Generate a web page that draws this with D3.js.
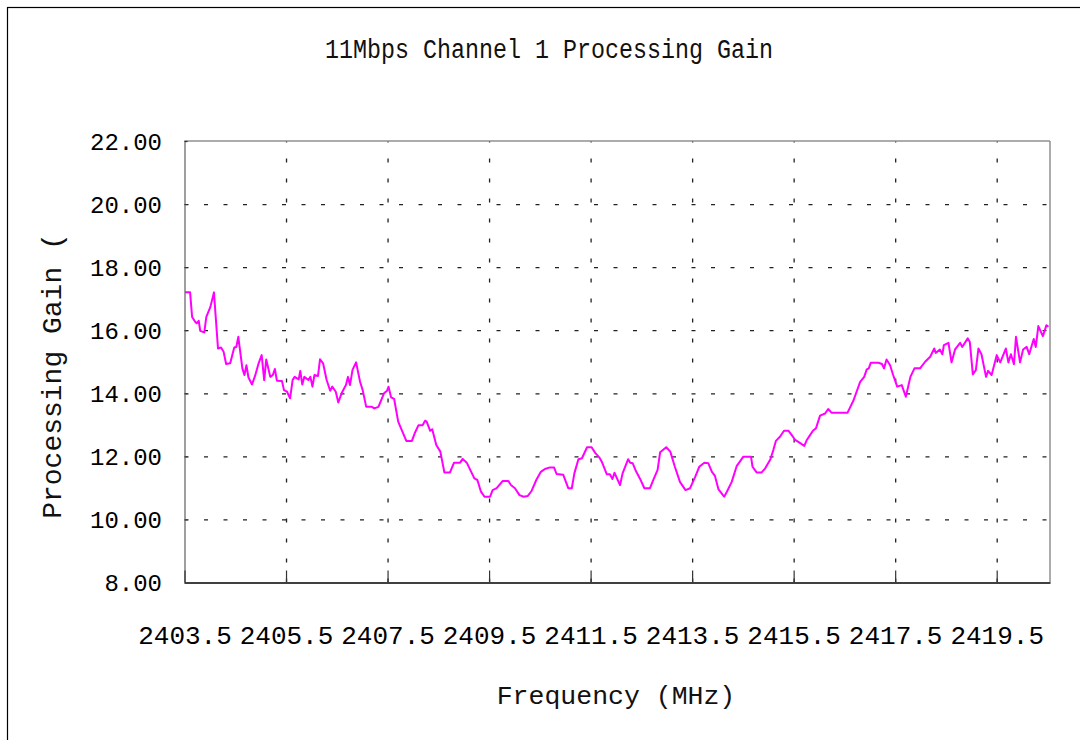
<!DOCTYPE html>
<html>
<head>
<meta charset="utf-8">
<script src="https://cdn.jsdelivr.net/npm/d3@7"></script>
<style>
  html, body { margin: 0; padding: 0; background: #fff; }
  svg { display: block; }
</style>
</head>
<body>
<svg id="chart" width="1080" height="740"></svg>
<script>
const titleText = "11Mbps Channel 1 Processing Gain";
const xTitle = "Frequency (MHz)";
const yTitle = "Processing Gain (";
const xTickValues = [2403.5, 2405.5, 2407.5, 2409.5, 2411.5, 2413.5, 2415.5, 2417.5, 2419.5];
const xTickLabels = ["2403.5", "2405.5", "2407.5", "2409.5", "2411.5", "2413.5", "2415.5", "2417.5", "2419.5"];
const yTickValues = [8, 10, 12, 14, 16, 18, 20, 22];
const yTickLabels = ["8.00", "10.00", "12.00", "14.00", "16.00", "18.00", "20.00", "22.00"];

const freqMHz = [
2403.51,2403.61,2403.65,2403.71,2403.74,2403.78,2403.81,2403.89,2403.93,2404.01,
2404.08,2404.16,2404.22,2404.27,2404.32,2404.40,2404.48,2404.52,2404.56,2404.64,
2404.68,2404.72,2404.76,2404.83,2404.89,2404.96,2405.02,2405.07,2405.11,2405.19,
2405.24,2405.28,2405.32,2405.42,2405.46,2405.52,2405.58,2405.63,2405.67,2405.75,
2405.78,2405.82,2405.86,2405.94,2405.98,2406.02,2406.06,2406.13,2406.17,2406.23,
2406.30,2406.37,2406.41,2406.48,2406.53,2406.60,2406.68,2406.72,2406.76,2406.81,
2406.88,2406.96,2407.01,2407.08,2407.19,2407.24,2407.32,2407.43,2407.49,2407.52,
2407.57,2407.63,2407.71,2407.78,2407.87,2407.98,2408.04,2408.11,2408.19,2408.24,
2408.27,2408.34,2408.38,2408.46,2408.54,2408.62,2408.73,2408.81,2408.93,2408.98,
2409.06,2409.21,2409.27,2409.34,2409.41,2409.52,2409.57,2409.65,2409.77,2409.88,
2409.93,2410.01,2410.10,2410.18,2410.26,2410.34,2410.43,2410.52,2410.60,2410.70,
2410.78,2410.83,2410.96,2411.06,2411.13,2411.18,2411.26,2411.33,2411.43,2411.52,
2411.59,2411.67,2411.72,2411.82,2411.88,2411.93,2411.97,2412.08,2412.13,2412.24,
2412.28,2412.33,2412.40,2412.47,2412.56,2412.67,2412.74,2412.82,2412.87,2412.99,
2413.07,2413.16,2413.26,2413.37,2413.46,2413.56,2413.64,2413.74,2413.82,2413.89,
2413.95,2414.02,2414.13,2414.18,2414.28,2414.38,2414.51,2414.66,2414.69,2414.77,
2414.87,2414.94,2415.04,2415.10,2415.15,2415.23,2415.31,2415.40,2415.46,2415.53,
2415.63,2415.71,2415.76,2415.81,2415.88,2415.94,2416.02,2416.12,2416.18,2416.25,
2416.56,2416.68,2416.81,2416.89,2416.94,2416.98,2417.02,2417.17,2417.24,2417.28,
2417.33,2417.40,2417.46,2417.54,2417.63,2417.71,2417.80,2417.88,2417.99,2418.09,
2418.19,2418.27,2418.30,2418.38,2418.43,2418.46,2418.55,2418.61,2418.68,2418.78,
2418.82,2418.93,2418.97,2419.03,2419.09,2419.14,2419.20,2419.29,2419.33,2419.40,
2419.50,2419.57,2419.68,2419.73,2419.78,2419.84,2419.88,2419.96,2420.02,2420.09,
2420.14,2420.23,2420.27,2420.32,2420.41,2420.48,2420.52
];
const gainDb = [
17.20,17.20,16.42,16.27,16.22,16.30,15.98,15.93,16.42,16.74,
17.20,15.42,15.45,15.32,14.93,14.95,15.45,15.47,15.79,14.79,
14.58,14.89,14.50,14.28,14.55,14.95,15.21,14.42,15.07,14.52,
14.58,14.77,14.40,14.39,14.10,14.05,13.84,14.42,14.52,14.44,
14.71,14.28,14.52,14.42,14.52,14.21,14.58,14.55,15.08,14.95,
14.42,14.08,14.21,14.05,13.71,14.02,14.26,14.52,14.26,14.74,
14.98,14.36,14.10,13.57,13.57,13.52,13.57,14.00,14.08,14.21,
13.87,13.82,13.10,12.83,12.49,12.49,12.75,12.99,12.99,13.13,
13.10,12.81,12.86,12.36,12.15,11.49,11.49,11.80,11.80,11.92,
11.80,11.30,11.25,10.88,10.72,10.72,10.93,10.99,11.22,11.22,
11.09,10.99,10.77,10.72,10.74,10.91,11.25,11.51,11.60,11.65,
11.65,11.44,11.42,10.99,10.99,11.46,11.91,11.94,12.29,12.29,
12.11,11.97,11.83,11.43,11.43,11.28,11.48,11.09,11.46,11.91,
11.80,11.78,11.51,11.30,10.99,10.99,11.27,11.57,12.13,12.29,
12.15,11.67,11.19,10.93,10.99,11.35,11.67,11.80,11.78,11.51,
11.38,10.95,10.72,10.86,11.19,11.70,11.99,11.99,11.67,11.49,
11.49,11.62,11.90,12.20,12.49,12.62,12.81,12.81,12.68,12.52,
12.42,12.33,12.52,12.64,12.81,12.89,13.29,13.36,13.50,13.38,
13.38,13.78,14.36,14.52,14.76,14.79,14.97,14.97,14.93,14.79,
15.07,14.89,14.58,14.21,14.26,13.89,14.52,14.79,14.79,15.00,
15.16,15.42,15.28,15.39,15.24,15.53,15.60,14.98,15.39,15.60,
15.47,15.74,15.63,14.60,14.74,15.42,15.24,14.52,14.71,14.58,
15.21,14.98,15.42,14.98,15.24,14.92,15.79,14.98,15.39,15.47,
15.24,15.72,15.47,16.13,15.81,16.16,16.11
];

const svg = d3.select("#chart");
const mono = "'Liberation Mono', 'DejaVu Sans Mono', monospace";

// outer frame (only top/left visible)
svg.append("rect").attr("x", 7.5).attr("y", 7.5).attr("width", 1100).attr("height", 800)
  .attr("fill", "none").attr("stroke", "#000").attr("stroke-width", 1.2);

const L = 184.5, R = 1050, T = 141, B = 582.5;
const x = d3.scaleLinear().domain([2403.5, 2420.55]).range([L, R]);
const y = d3.scaleLinear().domain([8, 22]).range([B, T]);

// grid
const grid = svg.append("g");
grid.append("g").attr("transform", `translate(0,${B})`)
  .call(d3.axisBottom(x).tickValues(xTickValues.slice(1)).tickSize(-(B - T)).tickFormat(""))
  .call(g => g.select(".domain").remove())
  .call(g => g.selectAll("line").attr("stroke", "#222").attr("stroke-width", 1.3).attr("stroke-dasharray", "4,16"));
grid.append("g").attr("transform", `translate(${L},0)`)
  .call(d3.axisLeft(y).tickValues(yTickValues.slice(1, -1)).tickSize(-(R - L)).tickFormat(""))
  .call(g => g.select(".domain").remove())
  .call(g => g.selectAll("line").attr("stroke", "#222").attr("stroke-width", 1.3).attr("stroke-dasharray", "4,15.5"));

// plot frame top/right/left
svg.append("line").attr("x1", L).attr("x2", R).attr("y1", T).attr("y2", T).attr("stroke", "#909090").attr("stroke-width", 1.5);
svg.append("line").attr("x1", R).attr("x2", R).attr("y1", T).attr("y2", B).attr("stroke", "#909090").attr("stroke-width", 1.5);

// y axis
const yAxis = svg.append("g").attr("transform", `translate(${L},0)`)
  .call(d3.axisLeft(y).tickValues(yTickValues).tickSize(-3).tickPadding(0)
    .tickFormat((d, i) => yTickLabels[i]));
yAxis.select(".domain").attr("stroke", "#808080").attr("stroke-width", 1.5);
yAxis.selectAll(".tick line").attr("stroke", "#333");
yAxis.selectAll("text").attr("x", 162 - L).attr("dy", "0.35em").attr("dy", null)
  .attr("y", 8).attr("font-family", mono).attr("font-size", 24).attr("fill", "#000").attr("text-anchor", "end");

// x axis
const xAxis = svg.append("g").attr("transform", `translate(0,${B})`)
  .call(d3.axisBottom(x).tickValues(xTickValues).tickSize(-12).tickSizeOuter(0)
    .tickFormat((d, i) => xTickLabels[i]));
xAxis.select(".domain").attr("stroke", "#404040").attr("stroke-width", 1.8);
xAxis.selectAll(".tick line").attr("stroke", "#333").attr("stroke-width", 1.2);
xAxis.selectAll("text").attr("y", 61).attr("dy", null)
  .attr("font-family", mono).attr("font-size", 26).attr("fill", "#000");

// line
svg.append("path")
  .datum(freqMHz.map((f, i) => [f, gainDb[i]]))
  .attr("fill", "none").attr("stroke", "#ff00ff").attr("stroke-width", 2)
  .attr("stroke-linejoin", "round")
  .attr("d", d3.line().x(d => x(d[0])).y(d => y(d[1])));

// titles
svg.append("text").attr("x", 549).attr("y", 58).attr("text-anchor", "middle")
  .attr("font-family", mono).attr("font-size", 27).attr("fill", "#111")
  .attr("textLength", 448).attr("lengthAdjust", "spacingAndGlyphs").text(titleText);
svg.append("text").attr("x", 616).attr("y", 704).attr("text-anchor", "middle")
  .attr("font-family", mono).attr("font-size", 26.5).attr("fill", "#111").text(xTitle);
svg.append("text").attr("transform", "translate(61,376) rotate(-90)").attr("text-anchor", "middle")
  .attr("font-family", mono).attr("font-size", 28).attr("fill", "#111").text(yTitle);
</script>
</body>
</html>
